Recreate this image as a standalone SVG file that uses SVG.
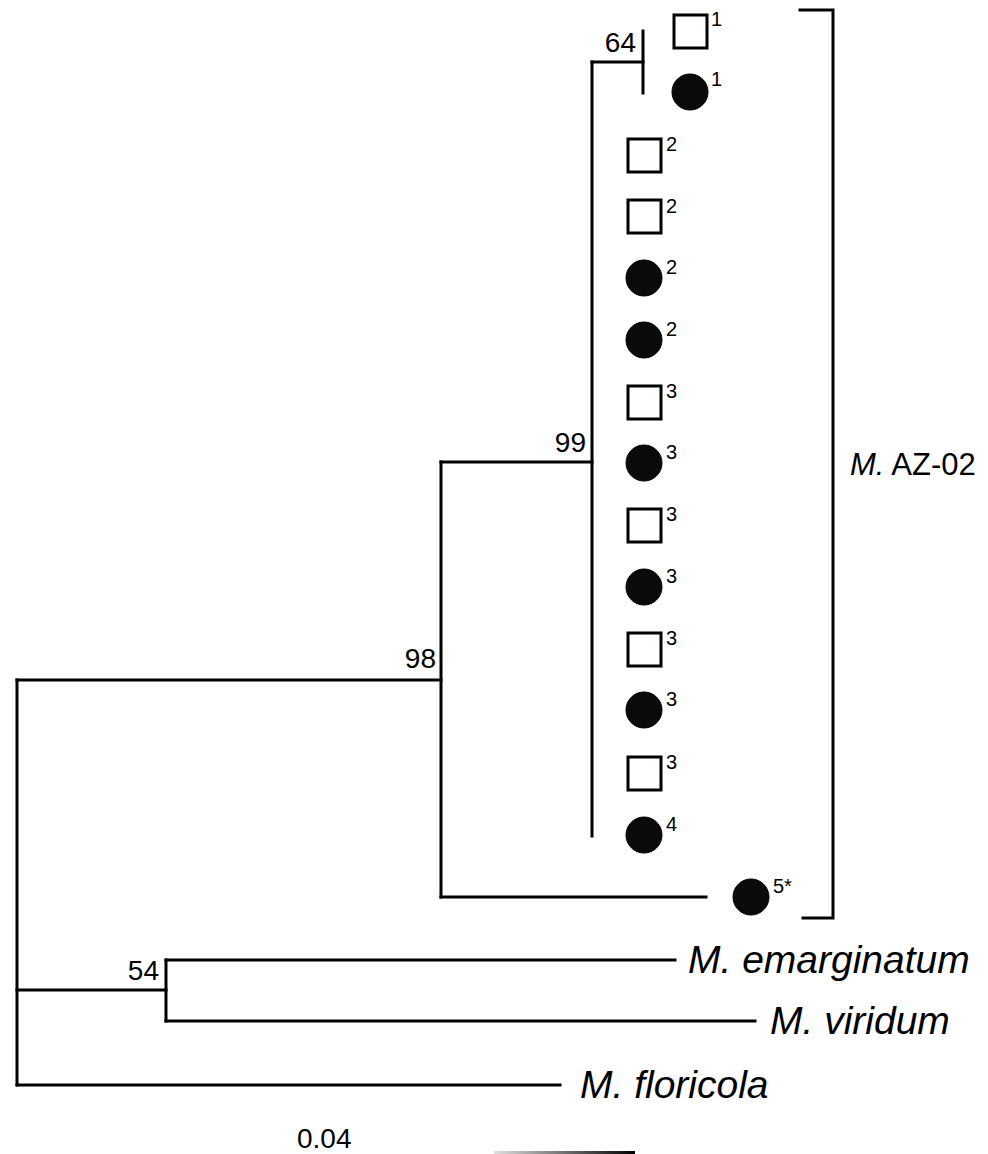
<svg xmlns="http://www.w3.org/2000/svg" width="988" height="1154" viewBox="0 0 988 1154">
<defs>
<style>
.br{stroke:#000;stroke-width:3;fill:none;stroke-linecap:square}
.sq{fill:#fff;stroke:#000;stroke-width:3}
.dt{fill:#0a0a0a;stroke:#000;stroke-width:1}
.sup{font-family:"Liberation Sans",Arial,sans-serif;font-size:20px;fill:#000}
.bs{font-family:"Liberation Sans",Arial,sans-serif;font-size:28px;fill:#000}
.sp{font-family:"Liberation Sans",Arial,sans-serif;font-size:39px;font-style:italic;fill:#000}
.cl{font-family:"Liberation Sans",Arial,sans-serif;font-size:31px;fill:#000}
</style>
<linearGradient id="sb" x1="0" y1="0" x2="1" y2="0">
<stop offset="0" stop-color="#e0e0e0"/>
<stop offset="1" stop-color="#000"/>
</linearGradient>
</defs>
<rect width="988" height="1154" fill="#fff"/>
<g id="connectors">
<path class="br" d="M17,680 V1085"/>
<path class="br" d="M17,680 H441"/>
<path class="br" d="M441,462 V897"/>
<path class="br" d="M441,462 H592"/>
<path class="br" d="M592,62 V836"/>
<path class="br" d="M592,62 H643"/>
<path class="br" d="M643,31 V93"/>
<path class="br" d="M441,897 H706"/>
<path class="br" d="M17,990 H166"/>
<path class="br" d="M166,960 V1021"/>
<path class="br" d="M166,960 H675"/>
<path class="br" d="M166,1021 H755"/>
<path class="br" d="M17,1085 H560"/>
</g>
<g id="support-labels">
<text class="bs" x="636" y="52" text-anchor="end">64</text>
<text class="bs" x="586" y="452" text-anchor="end">99</text>
<text class="bs" x="436" y="668" text-anchor="end">98</text>
<text class="bs" x="159" y="980" text-anchor="end">54</text>
</g>
<g id="leaf-1a"><rect class="sq" x="674" y="15" width="33" height="33"/><text class="sup" x="711" y="26">1</text></g>
<g id="leaf-1b"><circle class="dt" cx="690" cy="92" r="18"/><text class="sup" x="711" y="86">1</text></g>
<g id="leaf-2a"><rect class="sq" x="628" y="139" width="33" height="33"/><text class="sup" x="666" y="151">2</text></g>
<g id="leaf-2b"><rect class="sq" x="628" y="200" width="33" height="33"/><text class="sup" x="666" y="213">2</text></g>
<g id="leaf-2c"><circle class="dt" cx="644" cy="278" r="18"/><text class="sup" x="666" y="274">2</text></g>
<g id="leaf-2d"><circle class="dt" cx="644" cy="340" r="18"/><text class="sup" x="666" y="336">2</text></g>
<g id="leaf-3a"><rect class="sq" x="628" y="386" width="33" height="33"/><text class="sup" x="666" y="398">3</text></g>
<g id="leaf-3b"><circle class="dt" cx="644" cy="463" r="18"/><text class="sup" x="666" y="459">3</text></g>
<g id="leaf-3c"><rect class="sq" x="628" y="509" width="33" height="33"/><text class="sup" x="666" y="521">3</text></g>
<g id="leaf-3d"><circle class="dt" cx="644" cy="587" r="18"/><text class="sup" x="666" y="583">3</text></g>
<g id="leaf-3e"><rect class="sq" x="628" y="633" width="33" height="33"/><text class="sup" x="666" y="645">3</text></g>
<g id="leaf-3f"><circle class="dt" cx="644" cy="710" r="18"/><text class="sup" x="666" y="706">3</text></g>
<g id="leaf-3g"><rect class="sq" x="628" y="757" width="33" height="33"/><text class="sup" x="666" y="769">3</text></g>
<g id="leaf-4"><circle class="dt" cx="644" cy="835" r="18"/><text class="sup" x="666" y="831">4</text></g>
<g id="leaf-5"><circle class="dt" cx="751" cy="897" r="18"/><text class="sup" x="773" y="893">5*</text></g>
<g id="clade-bracket">
<path class="br" d="M800,10 H833 V918 H803"/>
<text class="cl" x="850" y="475"><tspan font-style="italic">M.</tspan> AZ-02</text>
</g>
<g id="taxon-emarginatum"><text class="sp" x="688" y="973">M. emarginatum</text></g>
<g id="taxon-viridum"><text class="sp" x="770" y="1034">M. viridum</text></g>
<g id="taxon-floricola"><text class="sp" x="580" y="1098">M. floricola</text></g>
<g id="scale-bar">
<text class="bs" x="297" y="1148">0.04</text>
<rect x="494" y="1151" width="141" height="3" fill="url(#sb)"/>
</g>
</svg>
